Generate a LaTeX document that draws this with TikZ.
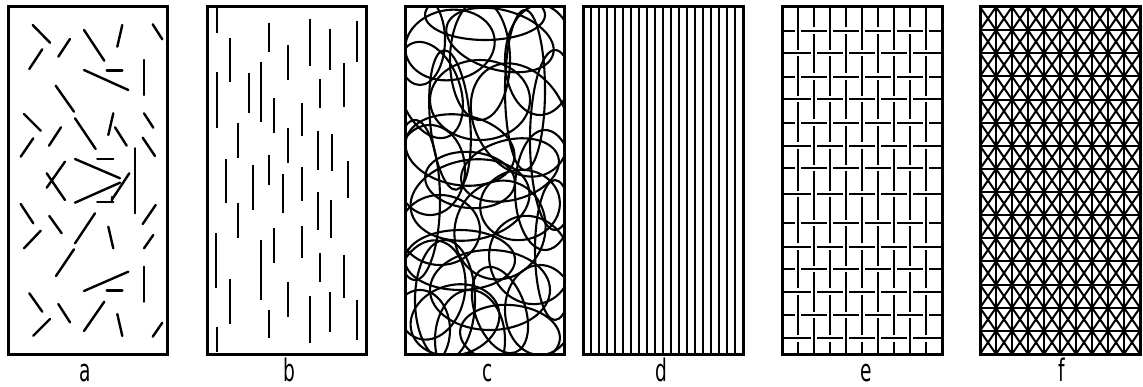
\documentclass[tikz,border=0pt]{standalone}
\usepackage{fontspec}
\newfontfamily\labfont{DejaVu Sans}
\begin{document}
\begin{tikzpicture}[x=1pt,y=-1pt,
  frame/.style={line width=3pt},
  strand/.style={line width=2.4pt,line cap=round},
  bdash/.style={line width=2.2pt},
  loop/.style={line width=2.1pt},
  dline/.style={line width=1.9pt},
  weave/.style={line width=2.3pt},
  grid/.style={line width=2pt},
  diag/.style={line width=2pt},
  lab/.style={font=\labfont\fontsize{31}{31}\selectfont,anchor=base,inner sep=0pt}]
\useasboundingbox (0,0) rectangle (1143,387);
\fill[white] (0,0) rectangle (1143,387);

% ---------- panel a ----------
\foreach \xa/\ya/\xb/\yb in {
 32.7/25/50/42.7, 70/39/58.3/56.7, 42.3/49.3/29.3/69, 84/30/104.3/60.7,
 122.3/25/117.3/46.7, 152.7/24.3/162.3/39.3, 106.7/70.7/122.3/70.7,
 84/70/128.3/90, 144/60/144/95, 55.7/85.7/74/111.7, 24/114/40.7/130.7,
 75/118.3/95.7/149, 113.3/113.3/108.3/135, 144/113.3/153.3/127.7,
 61/127.3/49/145.7, 33.3/138.3/20.7/156.7, 115/127.3/126.7/145.7,
 142.7/137.7/155/156, 97.3/159/113.3/159, 75/159/120/178.3,
 135/148.3/135/213.3, 65/161.7/46.7/187.7, 46.7/173.3/65/200,
 75/202.7/120/182.7, 97.3/202.3/113.3/202.3, 129.3/173.3/111.7/200,
 111.7/197/111.7/202.3,
 20.7/204/33.3/223.3, 49.3/216/61.7/233.3, 95/213.3/75/243.3,
 40.7/230.7/24/248.3, 108.3/226.7/113.3/248.3, 155.7/205/142.7/224,
 153.3/235/144/248.3, 74/249.3/56/276, 84/291/128.3/271.7,
 106.7/290.7/122.3/290.7, 144/266.7/144/301.7, 29.3/293.3/42.3/311.7,
 58.3/304/70/322.3, 50/319/33.3/335.7, 104.3/301.7/84/331,
 117.3/314/122.3/336, 162.3/322.7/152.7/336.7}
 \draw[strand] (\xa,\ya) -- (\xb,\yb);
\draw[frame] (8,7) rectangle (167,354);
\node[lab] (la) at (85,381) {\scalebox{0.6}[1]{a}};

% ---------- panel b ----------
\foreach \zx/\za/\zb in {
 65/25/100, 65/980/1055, 104/115/245, 65/215/385, 221/70/155, 278/135/240,
 345/58/198, 406/88/210, 487/63/185, 163/220/340, 197/185/365, 237/295/400,
 322/310/408, 375/238/325, 446/190/320, 130/370/475, 278/385/488, 368/393/510,
 412/403/512, 92/477/610, 175/495/630, 221/465/555, 264/522/638, 322/502/602,
 460/483/595, 130/610/715, 368/575/690, 408/600/715, 64/700/865, 197/720/900,
 237/685/790, 322/678/775, 375/760/845, 446/765/895, 104/838/972, 221/930/1015,
 278/845/950, 345/888/1028, 406/875/995, 487/900/1020}
 \draw[bdash] ({195+\zx/3},{\za/3}) -- ({195+\zx/3},{\zb/3});
\draw[frame] (207,7) rectangle (366,354);
\node[lab] (lb) at (289,381) {\scalebox{0.6}[1]{b}};

% ---------- panel c ----------
\begin{scope}
\clip (405,7) rectangle (564,354);
\foreach \cx/\cy/\rx/\ry/\rot in {
 450/45/45/35/10, 500/40/55/30/-15, 540/60/35/55/0, 430/90/30/50/20,
 480/100/50/40/0, 520/120/45/60/30, 460/150/55/35/-10, 430/170/35/45/0,
 510/170/50/30/15, 545/190/30/60/0, 470/200/60/40/10, 440/230/40/35/0,
 500/230/45/50/-20, 460/260/55/30/0, 530/260/40/45/25, 430/290/35/50/-10,
 490/290/60/40/0, 540/310/35/45/0, 455/320/45/35/15, 510/335/50/30/-5,
 420/330/30/40/0, 480/60/30/60/0, 450/120/20/70/5, 525/90/20/80/0,
 470/340/35/50/0, 415/200/25/80/0, 555/140/25/90/0,
 485/15/60/25/0, 470/180/45/28/-5, 520/205/40/35/10, 445/300/30/60/0,
 500/310/25/45/20, 555/250/20/70/0, 420/40/25/45/0}
 \draw[loop,rotate around={\rot:(\cx,\cy)}] (\cx,\cy) ellipse [x radius=\rx, y radius=\ry];
\end{scope}
\draw[frame] (405,7) rectangle (564,354);
\node[lab] (lc) at (488,381) {\scalebox{0.6}[1]{c}};

% ---------- panel d ----------
\foreach \k in {1,...,19}
 \draw[dline] ({583+8*\k},7) -- ({583+8*\k},354);
\draw[frame] (583,7) rectangle (743,354);
\node[lab] (ld) at (661,381) {\scalebox{0.6}[1]{d}};

% ---------- panel e ----------
\def\erows{30.7,53.3,76.7,99.3,122.7,145.7,168.3,194.3,223.3,246.7,269.3,291.7,315,338.3}
\foreach \y in \erows \draw[weave] (782,\y) -- (942,\y);
\foreach \k in {1,...,9} \draw[weave] ({782+16*\k},7) -- ({782+16*\k},354);
\foreach \y [count=\r] in \erows {
  \foreach \k in {1,...,9} {
    \pgfmathtruncatemacro\wpar{mod(\r+\k,2)}
    \pgfmathsetmacro\xx{782+16*\k}
    \ifnum\wpar=0
      \fill[white] ({\xx-3.2},{\y-2}) rectangle ({\xx+3.2},{\y+2});
      \draw[weave] (\xx,{\y-4.5}) -- (\xx,{\y+4.5});
    \else
      \fill[white] ({\xx-2},{\y-3.2}) rectangle ({\xx+2},{\y+3.2});
      \draw[weave] ({\xx-4.5},\y) -- ({\xx+4.5},\y);
    \fi
  }
}
\draw[frame] (782,7) rectangle (942,354);
\node[lab] (le) at (866,381) {\scalebox{0.6}[1]{e}};

% ---------- panel f ----------
\begin{scope}
\clip (980,7) rectangle (1140,354);
\foreach \k in {1,...,9} \draw[grid] ({980+16*\k},7) -- ({980+16*\k},354);
\foreach \j in {1,...,14} \draw[grid] (980,{7+23.133*\j}) -- (1140,{7+23.133*\j});
\foreach \i in {0,...,9} {
  \foreach \j in {0,...,14} {
    \draw[diag] ({980+16*\i},{7+23.133*\j}) -- ({996+16*\i},{30.133+23.133*\j});
    \draw[diag] ({996+16*\i},{7+23.133*\j}) -- ({980+16*\i},{30.133+23.133*\j});
  }
}
\end{scope}
\draw[frame] (980,7) rectangle (1140,354);
\node[lab] (lf) at (1062,381) {\scalebox{0.6}[1]{f}};
\end{tikzpicture}
\end{document}
